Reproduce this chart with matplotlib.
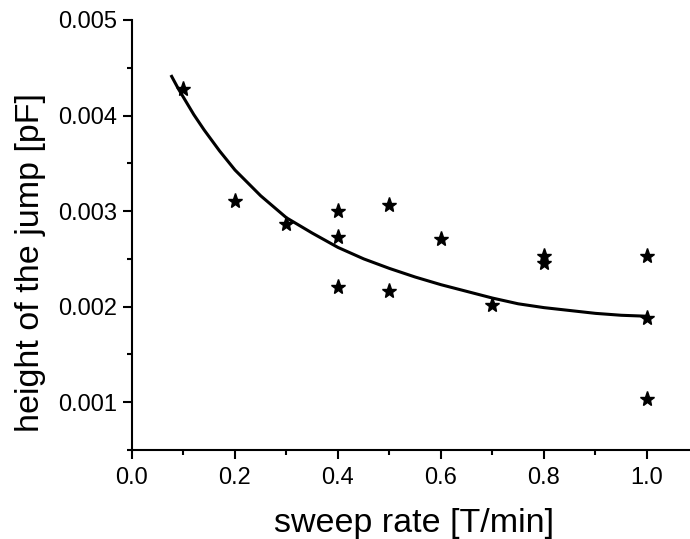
import matplotlib
matplotlib.use("Agg")
import matplotlib.pyplot as plt
from matplotlib.ticker import MultipleLocator

plt.rcParams['font.family'] = ['Liberation Sans', 'DejaVu Sans']

# measured points
rate = [0.1, 0.2, 0.3, 0.4, 0.4, 0.4, 0.5, 0.5, 0.6, 0.7, 0.8, 0.8, 1.0, 1.0, 1.0]
height = [0.00428, 0.00311, 0.002866, 0.003005, 0.002727, 0.002204, 0.003068,
          0.002165, 0.002706, 0.002019, 0.002535, 0.002455, 0.002535, 0.00188, 0.001039]

# fit curve
fit_x = [0.077, 0.09, 0.10, 0.12, 0.14, 0.17, 0.20, 0.25, 0.30, 0.35, 0.40, 0.45,
         0.50, 0.55, 0.60, 0.65, 0.70, 0.75, 0.80, 0.85, 0.90, 0.95, 1.00]
fit_y = [0.00441, 0.00428, 0.00419, 0.00401, 0.00385, 0.00363, 0.00343, 0.00316,
         0.00293, 0.00277, 0.00262, 0.00250, 0.00240, 0.00231, 0.00223, 0.00216,
         0.00209, 0.00203, 0.00199, 0.00196, 0.00193, 0.00191, 0.00190]

fig = plt.figure(figsize=(6.9, 5.39), dpi=100)
ax = fig.add_axes([0.1913, 0.1651, 1.0 - 0.1913, 0.9629 - 0.1651])

ax.plot(fit_x, fit_y, color='black', lw=2.2, solid_joinstyle='round')
ax.plot(rate, height, linestyle='none', marker='*', color='black', markersize=11)

ax.set_xlim(0, 1.0835)
ax.set_ylim(0.0005, 0.005)
ax.xaxis.set_minor_locator(MultipleLocator(0.1))
ax.yaxis.set_minor_locator(MultipleLocator(0.0005))
ax.set_xticks([0.0, 0.2, 0.4, 0.6, 0.8, 1.0])
ax.set_xticklabels(['0.0', '0.2', '0.4', '0.6', '0.8', '1.0'])
ax.set_yticks([0.001, 0.002, 0.003, 0.004, 0.005])
ax.set_yticklabels(['0.001', '0.002', '0.003', '0.004', '0.005'])

for side in ['top', 'right']:
    ax.spines[side].set_visible(False)
for side in ['left', 'bottom']:
    ax.spines[side].set_linewidth(1.5)

ax.tick_params(which='major', direction='out', length=6.5, width=1.5, labelsize=17, pad=4)
ax.tick_params(axis='x', which='major', pad=6)
ax.tick_params(which='minor', direction='out', length=3.5, width=1.5)

ax.set_xlabel('sweep rate [T/min]', fontsize=24.5)
ax.set_ylabel('height of the jump [pF]', fontsize=24.5)
ax.yaxis.set_label_coords(-0.155, 0.437)
ax.xaxis.set_label_coords(0.506, -0.134)

fig.savefig('out.png', dpi=100)
